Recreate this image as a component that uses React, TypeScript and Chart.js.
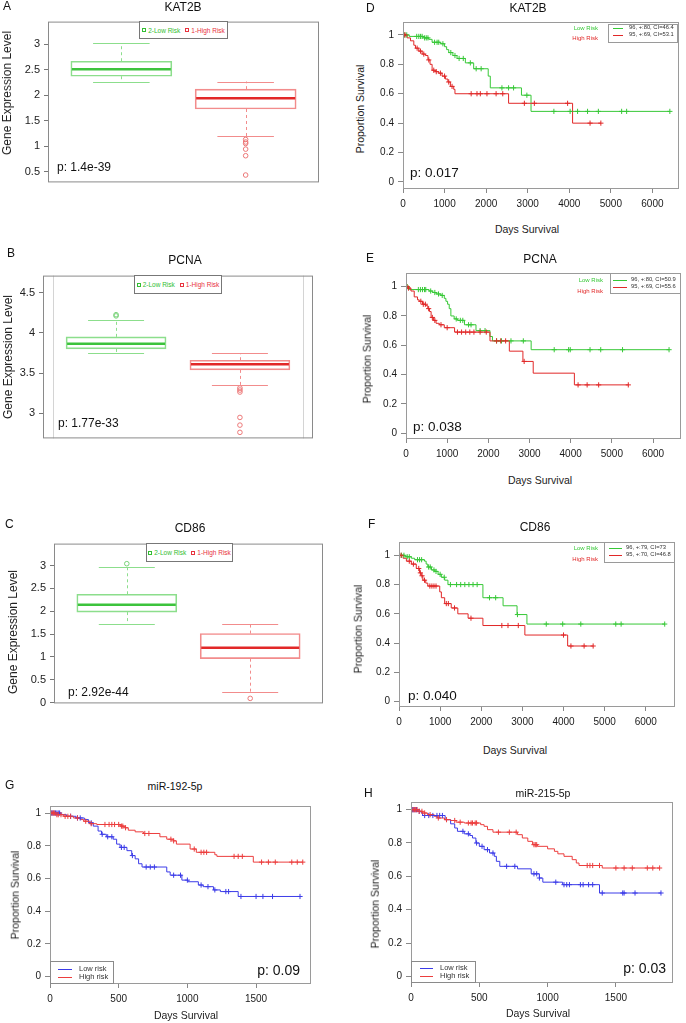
import React, { useEffect, useRef } from 'react';
import { Chart, registerables } from 'chart.js';

Chart.register(...registerables);

const FONT = '"Liberation Sans", Arial, Helvetica, sans-serif';
Chart.defaults.font.family = FONT;

// ---------------- Box plot data: [whisker low, Q1, median, Q3, whisker high] ----------------
const BOX_GROUPS = ['2-Low Risk', '1-High Risk'];
const GROUP_POS = [1, 2];

const KAT2B_LOW = [2.27, 2.375, 2.51, 2.67, 3.03];
const KAT2B_HIGH = [1.19, 1.73, 1.94, 2.12, 2.27];
const KAT2B_LOW_OUT: number[] = [];
const KAT2B_HIGH_OUT = [1.13, 1.08, 1.05, 0.94, 0.81, 0.43];
const KAT2B_TICKS = [0.5, 1, 1.5, 2, 2.5, 3];
const KAT2B_TICK_LABELS = ['0.5', '1', '1.5', '2', '2.5', '3'];

const PCNA_LOW = [3.755, 3.8, 3.865, 3.95, 4.165];
const PCNA_HIGH = [3.35, 3.54, 3.61, 3.66, 3.745];
const PCNA_LOW_OUT = [4.21, 4.225];
const PCNA_HIGH_OUT = [3.315, 3.29, 3.265, 2.95, 2.855, 2.765];
const PCNA_TICKS = [3, 3.5, 4, 4.5];
const PCNA_TICK_LABELS = ['3', '3.5', '4', '4.5'];

const CD86_LOW = [1.72, 1.98, 2.14, 2.37, 2.96];
const CD86_HIGH = [0.23, 0.96, 1.2, 1.51, 1.72];
const CD86_LOW_OUT = [3.04];
const CD86_HIGH_OUT = [0.09];
const CD86_TICKS = [0, 0.5, 1, 1.5, 2, 2.5, 3];
const CD86_TICK_LABELS = ['0', '0.5', '1', '1.5', '2', '2.5', '3'];

// ---------------- Survival data: [day, survival] steps and censor days ----------------
const SURV_TICKS = [0, 0.2, 0.4, 0.6, 0.8, 1];
const SURV_TICK_LABELS = ['0', '0.2', '0.4', '0.6', '0.8', '1'];
const DAYS_LONG = [0, 1000, 2000, 3000, 4000, 5000, 6000];
const DAYS_LONG_LABELS = ['0', '1000', '2000', '3000', '4000', '5000', '6000'];
const DAYS_SHORT = [0, 500, 1000, 1500];
const DAYS_SHORT_LABELS = ['0', '500', '1000', '1500'];

const RISK_LABELS = ['Low Risk', 'High Risk'];
const MIR_LABELS = ['Low risk', 'High risk'];

const D_LOW_STEPS = [[0, 1], [150, 0.99], [500, 0.98], [620, 0.97], [700, 0.95], [900, 0.94], [1000, 0.92], [1050, 0.9], [1100, 0.88], [1200, 0.86], [1300, 0.84], [1500, 0.81], [1700, 0.77], [2050, 0.72], [2100, 0.64], [2850, 0.59], [3080, 0.48]];
const D_LOW_CENSOR = [40, 90, 330, 380, 420, 460, 520, 560, 600, 760, 820, 860, 960, 1150, 1250, 1350, 1450, 1620, 1760, 1880, 2380, 2540, 2660, 2980, 3630, 4020, 4200, 4440, 4700, 5260, 5380, 6420];
const D_HIGH_STEPS = [[0, 1], [100, 0.98], [180, 0.96], [260, 0.93], [300, 0.91], [380, 0.89], [460, 0.87], [540, 0.86], [600, 0.83], [650, 0.8], [700, 0.76], [780, 0.75], [860, 0.74], [940, 0.72], [1020, 0.7], [1080, 0.68], [1140, 0.65], [1220, 0.63], [1250, 0.6], [2540, 0.535], [4080, 0.4]];
const D_HIGH_CENSOR = [20, 50, 340, 420, 500, 620, 740, 800, 900, 1000, 1100, 1180, 1640, 1780, 1860, 2020, 2240, 2400, 2920, 3160, 3960, 4500, 4760];
const D_LEGEND = ['96, +:80, CI=46.4', '95, +:69, CI=53.1'];

const E_LOW_STEPS = [[0, 1], [80, 0.98], [560, 0.97], [650, 0.96], [730, 0.95], [850, 0.94], [930, 0.92], [970, 0.9], [1010, 0.88], [1050, 0.85], [1090, 0.8], [1170, 0.78], [1250, 0.77], [1420, 0.74], [1700, 0.7], [2040, 0.66], [2100, 0.63], [3040, 0.57]];
const E_LOW_CENSOR = [30, 300, 350, 400, 450, 480, 600, 700, 790, 880, 1220, 1320, 1380, 1520, 1580, 1800, 1920, 2200, 2320, 2550, 2850, 3600, 3950, 3990, 4470, 4730, 5260, 6390];
const E_HIGH_STEPS = [[0, 1], [40, 0.99], [120, 0.97], [200, 0.93], [280, 0.91], [320, 0.9], [400, 0.88], [480, 0.87], [530, 0.85], [570, 0.83], [610, 0.79], [670, 0.77], [730, 0.75], [810, 0.74], [930, 0.72], [1180, 0.69], [2040, 0.63], [2510, 0.56], [2840, 0.49], [3090, 0.41], [4090, 0.33]];
const E_HIGH_CENSOR = [20, 60, 360, 420, 470, 550, 640, 700, 850, 1000, 1250, 1350, 1450, 1550, 1650, 1800, 1950, 2200, 2300, 2420, 2870, 4180, 4400, 4680, 5400];
const E_LEGEND = ['96, +:80, CI=50.9', '95, +:69, CI=55.6'];

const F_LOW_STEPS = [[0, 1], [150, 0.99], [300, 0.98], [380, 0.97], [620, 0.96], [660, 0.94], [700, 0.92], [790, 0.9], [870, 0.89], [950, 0.87], [1030, 0.85], [1110, 0.83], [1190, 0.8], [2040, 0.71], [2530, 0.655], [2870, 0.595], [3110, 0.53]];
const F_LOW_CENSOR = [60, 120, 200, 250, 450, 500, 550, 720, 760, 850, 900, 1000, 1100, 1250, 1400, 1500, 1600, 1700, 1800, 1900, 2200, 2350, 2880, 3580, 3980, 4420, 5270, 5400, 6460];
const F_HIGH_STEPS = [[0, 1], [100, 0.98], [180, 0.96], [300, 0.94], [420, 0.91], [500, 0.88], [540, 0.86], [580, 0.83], [650, 0.81], [700, 0.79], [990, 0.75], [1030, 0.71], [1110, 0.67], [1270, 0.64], [1430, 0.6], [1680, 0.57], [2040, 0.52], [3060, 0.455], [4100, 0.38]];
const F_HIGH_CENSOR = [50, 250, 350, 480, 520, 560, 620, 750, 800, 850, 900, 1150, 1200, 1350, 1750, 2500, 2650, 2900, 4000, 4180, 4500, 4720];
const F_LEGEND = ['96, +:79, CI=73', '95, +:70, CI=46.8'];

const G_LOW_STEPS = [[0, 1], [80, 0.99], [120, 0.98], [190, 0.97], [250, 0.96], [280, 0.94], [315, 0.92], [350, 0.89], [375, 0.87], [410, 0.855], [460, 0.84], [485, 0.81], [510, 0.79], [560, 0.77], [595, 0.74], [620, 0.72], [645, 0.69], [670, 0.67], [850, 0.64], [875, 0.62], [960, 0.59], [1005, 0.58], [1080, 0.56], [1115, 0.55], [1190, 0.53], [1240, 0.52], [1370, 0.49]];
const G_LOW_CENSOR = [10, 20, 30, 40, 50, 60, 70, 150, 200, 220, 300, 380, 420, 450, 520, 540, 600, 700, 730, 760, 900, 950, 1000, 1100, 1150, 1200, 1280, 1300, 1390, 1500, 1550, 1620, 1820];
const G_HIGH_STEPS = [[0, 1], [40, 0.99], [100, 0.98], [170, 0.97], [220, 0.96], [245, 0.95], [290, 0.935], [340, 0.93], [510, 0.92], [545, 0.91], [570, 0.895], [620, 0.885], [680, 0.875], [800, 0.855], [850, 0.84], [900, 0.83], [920, 0.81], [1020, 0.78], [1065, 0.76], [1200, 0.745], [1215, 0.735], [1480, 0.7]];
const G_HIGH_CENSOR = [5, 15, 25, 35, 50, 60, 80, 110, 130, 150, 200, 260, 300, 400, 430, 450, 470, 500, 520, 530, 550, 690, 720, 880, 900, 1050, 1100, 1120, 1140, 1340, 1370, 1400, 1540, 1590, 1640, 1760, 1800, 1840];

const H_LOW_STEPS = [[0, 1], [50, 0.99], [75, 0.98], [85, 0.965], [250, 0.94], [290, 0.915], [320, 0.89], [340, 0.87], [390, 0.855], [430, 0.845], [450, 0.83], [475, 0.8], [500, 0.78], [535, 0.76], [575, 0.74], [610, 0.72], [625, 0.69], [650, 0.66], [780, 0.645], [880, 0.615], [940, 0.59], [965, 0.565], [1110, 0.55], [1380, 0.5]];
const H_LOW_CENSOR = [10, 20, 30, 40, 60, 100, 130, 160, 190, 210, 230, 380, 420, 480, 520, 560, 600, 700, 760, 900, 920, 940, 1060, 1120, 1140, 1160, 1240, 1260, 1300, 1330, 1400, 1550, 1560, 1640, 1830];
const H_HIGH_STEPS = [[0, 1], [50, 0.99], [85, 0.98], [120, 0.97], [170, 0.96], [195, 0.95], [245, 0.94], [290, 0.935], [330, 0.925], [390, 0.92], [510, 0.91], [535, 0.9], [560, 0.88], [600, 0.865], [780, 0.85], [815, 0.83], [855, 0.81], [890, 0.79], [925, 0.78], [1000, 0.765], [1050, 0.75], [1075, 0.735], [1120, 0.72], [1180, 0.7], [1210, 0.68], [1230, 0.665], [1400, 0.65]];
const H_HIGH_CENSOR = [5, 15, 25, 35, 45, 60, 80, 100, 140, 200, 260, 320, 360, 420, 440, 450, 470, 480, 640, 720, 770, 900, 910, 920, 1290, 1310, 1330, 1380, 1500, 1560, 1620, 1730, 1770, 1820];

// ---------------- Colours ----------------
const GREEN = 'rgb(55,200,55)';
const RED = 'rgb(225,40,40)';
const BLUE = 'rgb(60,60,232)';
const RED2 = 'rgb(236,62,62)';
const LOW_BOX = 'rgb(140,222,140)';
const LOW_MED = 'rgb(60,195,60)';
const HIGH_BOX = 'rgb(242,140,140)';
const HIGH_MED = 'rgb(226,40,40)';
const LOW_OUT_C = 'rgb(120,210,120)';
const HIGH_OUT_C = 'rgb(236,120,120)';
const LEGEND_COLORS = ['rgb(50,190,50)', 'rgb(232,50,62)'];

// ---------------- helpers ----------------
function stepValue(steps: number[][], t: number) {
  let v = steps[0][1];
  for (const [x, y] of steps) {
    if (x <= t) v = y;
    else break;
  }
  return v;
}

function lineData(steps: number[][], censor: number[]) {
  const pts = steps.map(([x, y]) => ({ x, y }));
  const last = Math.max(...censor);
  const lastStep = steps[steps.length - 1];
  if (last > lastStep[0]) pts.push({ x: last, y: lastStep[1] });
  return pts;
}

function framePlugin(color: string, width: number, vlines?: number[]) {
  return {
    id: 'frame',
    afterDatasetsDraw(chart: any) {
      const { ctx, chartArea: a } = chart;
      ctx.save();
      if (vlines) {
        ctx.strokeStyle = '#d4d4d4';
        ctx.lineWidth = 1;
        for (const v of vlines) {
          const px = Math.round(chart.scales.x.getPixelForValue(v)) + 0.5;
          ctx.beginPath();
          ctx.moveTo(px, a.top);
          ctx.lineTo(px, a.bottom);
          ctx.stroke();
        }
      }
      ctx.strokeStyle = color;
      ctx.lineWidth = width;
      ctx.strokeRect(a.left + 0.5, a.top + 0.5, a.right - a.left - 1, a.bottom - a.top - 1);
      ctx.restore();
    },
  };
}

function boxPlugin(stats: number[][], datasetIndex: number) {
  const lineC = [LOW_BOX, HIGH_BOX];
  const medC = [LOW_MED, HIGH_MED];
  return {
    id: 'boxExtras',
    afterDatasetsDraw(chart: any) {
      const ctx = chart.ctx;
      const ys = chart.scales.y;
      const meta = chart.getDatasetMeta(datasetIndex);
      meta.data.forEach((bar: any, i: number) => {
        const [lo, q1, med, q3, hi] = stats[i];
        const { x, width } = bar.getProps(['x', 'width'], true);
        const line = (x1: number, y1: number, x2: number, y2: number) => {
          ctx.beginPath();
          ctx.moveTo(x1, y1);
          ctx.lineTo(x2, y2);
          ctx.stroke();
        };
        ctx.save();
        const cx = Math.round(x) + 0.5;
        ctx.strokeStyle = lineC[i];
        ctx.lineWidth = 1;
        ctx.setLineDash([3, 3]);
        line(cx, ys.getPixelForValue(q3), cx, ys.getPixelForValue(hi));
        line(cx, ys.getPixelForValue(q1), cx, ys.getPixelForValue(lo));
        ctx.setLineDash([]);
        const cw = width * 0.28;
        const yhi = Math.round(ys.getPixelForValue(hi)) + 0.5;
        const ylo = Math.round(ys.getPixelForValue(lo)) + 0.5;
        line(x - cw, yhi, x + cw, yhi);
        line(x - cw, ylo, x + cw, ylo);
        ctx.strokeStyle = medC[i];
        ctx.lineWidth = 2.5;
        const ym = ys.getPixelForValue(med);
        line(x - width / 2 + 1, ym, x + width / 2 - 1, ym);
        ctx.restore();
      });
    },
  };
}

function Txt({ x, y, text, size = 12, color = '#111', anchor = 'middle', rotate = false }: any) {
  const tx = anchor === 'start' ? '0' : anchor === 'end' ? '-100%' : '-50%';
  return (
    <div
      style={{
        position: 'absolute',
        left: x,
        top: y,
        transform: `translate(${tx}, -50%)${rotate ? ' rotate(-90deg)' : ''}`,
        fontFamily: FONT,
        fontSize: size,
        color,
        whiteSpace: 'nowrap',
        lineHeight: 1,
      }}
    >
      {text}
    </div>
  );
}

// ---------------- Box plot panels ----------------
const BOX_PANELS = [
  {
    key: 'A', box: { x: 48, y: 21, w: 271, h: 162 }, yMin: 0.285, yMax: 3.45, ticks: KAT2B_TICKS, labels: KAT2B_TICK_LABELS,
    low: KAT2B_LOW, high: KAT2B_HIGH, lowOut: KAT2B_LOW_OUT, highOut: KAT2B_HIGH_OUT, xMin: 0.41, xMax: 2.59, boxW: 101,
    letter: { t: 'A', x: 3, y: 6 }, title: { t: 'KAT2B', x: 183, y: 7 }, yTitle: { x: 7, y: 93 },
    legend: { x: 139, y: 21, w: 89, h: 18 }, p: { t: 'p: 1.4e-39', x: 57, y: 167 },
  },
  {
    key: 'B', box: { x: 43, y: 275, w: 270, h: 164 }, yMin: 2.69, yMax: 4.71, ticks: PCNA_TICKS, labels: PCNA_TICK_LABELS,
    low: PCNA_LOW, high: PCNA_HIGH, lowOut: PCNA_LOW_OUT, highOut: PCNA_HIGH_OUT, xMin: 0.41, xMax: 2.59, boxW: 100,
    vlines: [0.49, 2.51],
    letter: { t: 'B', x: 7, y: 253 }, title: { t: 'PCNA', x: 185, y: 260 }, yTitle: { x: 8, y: 357 },
    legend: { x: 134, y: 275, w: 88, h: 19 }, p: { t: 'p: 1.77e-33', x: 58, y: 423 },
  },
  {
    key: 'C', box: { x: 54, y: 543, w: 269, h: 161 }, yMin: -0.02, yMax: 3.48, ticks: CD86_TICKS, labels: CD86_TICK_LABELS,
    low: CD86_LOW, high: CD86_HIGH, lowOut: CD86_LOW_OUT, highOut: CD86_HIGH_OUT, xMin: 0.41, xMax: 2.59, boxW: 100,
    letter: { t: 'C', x: 5, y: 524 }, title: { t: 'CD86', x: 190, y: 528 }, yTitle: { x: 13, y: 632 },
    legend: { x: 146, y: 543, w: 87, h: 19 }, p: { t: 'p: 2.92e-44', x: 68, y: 692 },
  },
];

function BoxPanel({ d }: any) {
  const ref = useRef<HTMLCanvasElement>(null);
  const yW = 40;
  const padT = 10;
  const padB = 10;
  const padR = 6;
  const left = d.box.x - yW;
  const top = d.box.y - padT;
  const width = yW + d.box.w + padR;
  const height = padT + d.box.h + padB;

  useEffect(() => {
    const chart = new Chart(ref.current as HTMLCanvasElement, {
      type: 'bar',
      data: {
        datasets: [
          {
            type: 'line',
            data: d.highOut.map((v: number) => ({ x: GROUP_POS[1], y: v })),
            showLine: false,
            pointStyle: 'circle',
            pointRadius: 2.3,
            pointBorderWidth: 1,
            pointBorderColor: HIGH_OUT_C,
            pointBackgroundColor: 'rgba(0,0,0,0)',
          },
          {
            type: 'line',
            data: d.lowOut.map((v: number) => ({ x: GROUP_POS[0], y: v })),
            showLine: false,
            pointStyle: 'circle',
            pointRadius: 2.3,
            pointBorderWidth: 1,
            pointBorderColor: LOW_OUT_C,
            pointBackgroundColor: 'rgba(0,0,0,0)',
          },
          {
            type: 'bar',
            data: [
              { x: GROUP_POS[0], y: [d.low[1], d.low[3]] },
              { x: GROUP_POS[1], y: [d.high[1], d.high[3]] },
            ],
            backgroundColor: 'rgba(0,0,0,0)',
            borderColor: [LOW_BOX, HIGH_BOX],
            borderWidth: 1,
            borderSkipped: false,
            barThickness: d.boxW,
            grouped: false,
          },
        ],
      } as any,
      options: {
        animation: false,
        responsive: false,
        maintainAspectRatio: false,
        layout: { padding: { top: padT, right: padR, bottom: padB, left: 0 } },
        plugins: { legend: { display: false }, tooltip: { enabled: false } },
        scales: {
          x: {
            type: 'linear',
            min: d.xMin,
            max: d.xMax,
            offset: false,
            afterBuildTicks: (s: any) => { s.ticks = GROUP_POS.map((v) => ({ value: v })); },
            afterFit: (s: any) => { s.height = 0; },
            ticks: { display: false },
            grid: { display: false },
            border: { display: false },
          },
          y: {
            type: 'linear',
            min: d.yMin,
            max: d.yMax,
            beginAtZero: false,
            afterBuildTicks: (s: any) => { s.ticks = d.ticks.map((v: number) => ({ value: v })); },
            afterFit: (s: any) => { s.width = yW; },
            ticks: {
              font: { size: 11, family: FONT },
              color: '#222',
              padding: 4,
              autoSkip: false,
              callback: (_v: any, i: number) => d.labels[i],
            },
            grid: { drawOnChartArea: false, drawTicks: true, tickLength: 4, color: '#777' },
            border: { display: false },
          },
        },
      } as any,
      plugins: [framePlugin('#8a8a8a', 1, d.vlines), boxPlugin([d.low, d.high], 2)],
    });
    return () => chart.destroy();
  }, []);

  return (
    <>
      <canvas ref={ref} width={width} height={height} style={{ position: 'absolute', left, top, width, height }} />
      <Txt x={d.letter.x} y={d.letter.y} text={d.letter.t} anchor="start" size={12} />
      <Txt x={d.title.x} y={d.title.y} text={d.title.t} size={12} />
      <Txt x={d.yTitle.x} y={d.yTitle.y} text="Gene Expression Level" size={12} rotate color="#222" />
      <Txt x={d.p.x} y={d.p.y} text={d.p.t} anchor="start" size={12} color="#111" />
      <div
        style={{
          position: 'absolute', left: d.legend.x, top: d.legend.y, width: d.legend.w, height: d.legend.h,
          boxSizing: 'border-box', border: '1px solid #777', background: '#fff', display: 'flex',
          alignItems: 'center', justifyContent: 'center', gap: 5, fontFamily: FONT, fontSize: 6.5,
          whiteSpace: 'nowrap', overflow: 'visible',
        }}
      >
        {BOX_GROUPS.map((g, i) => (
          <span key={g} style={{ color: LEGEND_COLORS[i], display: 'flex', alignItems: 'center', gap: 2, flexShrink: 0, whiteSpace: 'nowrap' }}>
            <span style={{ display: 'inline-block', width: 2, height: 2, border: `1px solid ${LEGEND_COLORS[i]}` }} />
            {g}
          </span>
        ))}
      </div>
    </>
  );
}

// ---------------- Survival panels ----------------
const SURV_PANELS = [
  {
    key: 'D', box: { x: 403, y: 22, w: 276, h: 167 }, xMax: 6640, yMin: -0.048, yMax: 1.088, xTicks: DAYS_LONG, xLabels: DAYS_LONG_LABELS,
    low: D_LOW_STEPS, lowC: D_LOW_CENSOR, high: D_HIGH_STEPS, highC: D_HIGH_CENSOR, colors: [GREEN, RED],
    letter: { t: 'D', x: 366, y: 8 }, title: { t: 'KAT2B', x: 528, y: 8 }, yTitle: { x: 360, y: 109 }, xTitle: { x: 527, y: 229 },
    p: { t: 'p: 0.017', x: 410, y: 173, size: 13.5, anchor: 'start' },
    top: { labelsRight: 598, labelY: [28, 38], box: { x: 608, y: 24, w: 70, h: 19 }, lineX: [613, 623], lineY: [28, 35], textX: 629, texts: D_LEGEND },
  },
  {
    key: 'E', box: { x: 406, y: 273, w: 275, h: 166 }, xMax: 6680, yMin: -0.039, yMax: 1.093, xTicks: DAYS_LONG, xLabels: DAYS_LONG_LABELS,
    low: E_LOW_STEPS, lowC: E_LOW_CENSOR, high: E_HIGH_STEPS, highC: E_HIGH_CENSOR, colors: [GREEN, RED],
    letter: { t: 'E', x: 366, y: 258 }, title: { t: 'PCNA', x: 540, y: 259 }, yTitle: { x: 367, y: 359 }, xTitle: { x: 540, y: 480 },
    p: { t: 'p: 0.038', x: 413, y: 427, size: 13.5, anchor: 'start' },
    top: { labelsRight: 603, labelY: [280, 291], box: { x: 610, y: 273, w: 71, h: 21 }, lineX: [613, 627], lineY: [280, 287], textX: 631, texts: E_LEGEND },
  },
  {
    key: 'F', box: { x: 399, y: 542, w: 276, h: 165 }, xMax: 6710, yMin: -0.037, yMax: 1.091, xTicks: DAYS_LONG, xLabels: DAYS_LONG_LABELS,
    low: F_LOW_STEPS, lowC: F_LOW_CENSOR, high: F_HIGH_STEPS, highC: F_HIGH_CENSOR, colors: [GREEN, RED],
    letter: { t: 'F', x: 368, y: 524 }, title: { t: 'CD86', x: 535, y: 527 }, yTitle: { x: 358, y: 629 }, xTitle: { x: 515, y: 750 },
    p: { t: 'p: 0.040', x: 408, y: 696, size: 13.5, anchor: 'start' },
    top: { labelsRight: 598, labelY: [548, 559], box: { x: 604, y: 542, w: 71, h: 21 }, lineX: [609, 622], lineY: [548, 555], textX: 626, texts: F_LEGEND },
  },
  {
    key: 'G', box: { x: 50, y: 806, w: 261, h: 178 }, xMax: 1900, yMin: -0.045, yMax: 1.043, xTicks: DAYS_SHORT, xLabels: DAYS_SHORT_LABELS,
    low: G_LOW_STEPS, lowC: G_LOW_CENSOR, high: G_HIGH_STEPS, highC: G_HIGH_CENSOR, colors: [BLUE, RED2],
    letter: { t: 'G', x: 5, y: 785 }, title: { t: 'miR-192-5p', x: 175, y: 786 }, yTitle: { x: 15, y: 895 }, xTitle: { x: 186, y: 1015 },
    p: { t: 'p: 0.09', x: 300, y: 970, size: 14, anchor: 'end' },
    bottom: { box: { x: 50, y: 961, w: 64, h: 23 }, lineX: [58, 72], lineY: [969, 977], textX: 79 },
  },
  {
    key: 'H', box: { x: 411, y: 802, w: 262, h: 181 }, xMax: 1918, yMin: -0.04, yMax: 1.046, xTicks: DAYS_SHORT, xLabels: DAYS_SHORT_LABELS,
    low: H_LOW_STEPS, lowC: H_LOW_CENSOR, high: H_HIGH_STEPS, highC: H_HIGH_CENSOR, colors: [BLUE, RED2],
    letter: { t: 'H', x: 364, y: 793 }, title: { t: 'miR-215-5p', x: 543, y: 793 }, yTitle: { x: 375, y: 904 }, xTitle: { x: 538, y: 1013 },
    p: { t: 'p: 0.03', x: 666, y: 968, size: 14, anchor: 'end' },
    bottom: { box: { x: 411, y: 961, w: 65, h: 22 }, lineX: [420, 433], lineY: [968, 976], textX: 440 },
  },
];

function SurvPanel({ d }: any) {
  const ref = useRef<HTMLCanvasElement>(null);
  const yW = 36;
  const padT = 10;
  const xH = 26;
  const padR = 5;
  const left = d.box.x - yW;
  const top = d.box.y - padT;
  const width = yW + d.box.w + padR;
  const height = padT + d.box.h + xH;

  useEffect(() => {
    const [lowColor, highColor] = d.colors;
    const censorSet = (steps: number[][], cens: number[], color: string) => ({
      type: 'line',
      data: cens.map((t) => ({ x: t, y: stepValue(steps, t) })),
      showLine: false,
      pointStyle: 'cross',
      pointRadius: 2.6,
      pointBorderWidth: 1,
      pointBorderColor: color,
      pointBackgroundColor: color,
    });
    const curve = (steps: number[][], cens: number[], color: string) => ({
      type: 'line',
      data: lineData(steps, cens),
      stepped: 'before',
      borderColor: color,
      borderWidth: 1,
      pointRadius: 0,
      fill: false,
    });
    const chart = new Chart(ref.current as HTMLCanvasElement, {
      type: 'line',
      data: {
        datasets: [
          censorSet(d.high, d.highC, highColor),
          censorSet(d.low, d.lowC, lowColor),
          curve(d.high, d.highC, highColor),
          curve(d.low, d.lowC, lowColor),
        ],
      } as any,
      options: {
        animation: false,
        responsive: false,
        maintainAspectRatio: false,
        layout: { padding: { top: padT, right: padR, bottom: 0, left: 0 } },
        plugins: { legend: { display: false }, tooltip: { enabled: false } },
        scales: {
          x: {
            type: 'linear',
            min: 0,
            max: d.xMax,
            afterBuildTicks: (s: any) => { s.ticks = d.xTicks.map((v: number) => ({ value: v })); },
            afterFit: (s: any) => { s.height = xH; },
            ticks: {
              font: { size: 10, family: FONT },
              color: '#1a1a1a',
              padding: 5,
              maxRotation: 0,
              autoSkip: false,
              callback: (_v: any, i: number) => d.xLabels[i],
            },
            grid: { drawOnChartArea: false, drawTicks: true, tickLength: 4, color: '#888' },
            border: { display: false },
          },
          y: {
            type: 'linear',
            min: d.yMin,
            max: d.yMax,
            afterBuildTicks: (s: any) => { s.ticks = SURV_TICKS.map((v) => ({ value: v })); },
            afterFit: (s: any) => { s.width = yW; },
            ticks: {
              font: { size: 10, family: FONT },
              color: '#1a1a1a',
              padding: 4,
              autoSkip: false,
              callback: (_v: any, i: number) => SURV_TICK_LABELS[i],
            },
            grid: { drawOnChartArea: false, drawTicks: true, tickLength: 5, color: '#888' },
            border: { display: false },
          },
        },
      } as any,
      plugins: [framePlugin('#9a9a9a', 1)],
    });
    return () => chart.destroy();
  }, []);

  const t = d.top;
  const b = d.bottom;
  return (
    <>
      <canvas ref={ref} width={width} height={height} style={{ position: 'absolute', left, top, width, height }} />
      <Txt x={d.letter.x} y={d.letter.y} text={d.letter.t} anchor="start" size={12} />
      <Txt x={d.title.x} y={d.title.y} text={d.title.t} size={d.bottom ? 10.5 : 12} />
      <Txt x={d.yTitle.x} y={d.yTitle.y} text="Proportion Survival" size={10.5} rotate color="#222" />
      <Txt x={d.xTitle.x} y={d.xTitle.y} text="Days Survival" size={10.5} color="#222" />
      <Txt x={d.p.x} y={d.p.y} text={d.p.t} anchor={d.p.anchor} size={d.p.size} color="#111" />
      {t && (
        <>
          {RISK_LABELS.map((lab, i) => (
            <Txt key={lab} x={t.labelsRight} y={t.labelY[i]} text={lab} anchor="end" size={6} color={d.colors[i]} />
          ))}
          <div style={{ position: 'absolute', left: t.box.x, top: t.box.y, width: t.box.w, height: t.box.h, boxSizing: 'border-box', border: '1px solid #9a9a9a', background: '#fff' }} />
          {t.texts.map((s: string, i: number) => (
            <React.Fragment key={s}>
              <div style={{ position: 'absolute', left: t.lineX[0], top: t.lineY[i], width: t.lineX[1] - t.lineX[0], height: 1, background: d.colors[i] }} />
              <Txt x={t.textX} y={t.lineY[i]} text={s} anchor="start" size={5.8} color="#333" />
            </React.Fragment>
          ))}
        </>
      )}
      {b && (
        <>
          <div style={{ position: 'absolute', left: b.box.x, top: b.box.y, width: b.box.w, height: b.box.h, boxSizing: 'border-box', border: '1px solid #8a8a8a', background: '#fff' }} />
          {MIR_LABELS.map((lab, i) => (
            <React.Fragment key={lab}>
              <div style={{ position: 'absolute', left: b.lineX[0], top: b.lineY[i], width: b.lineX[1] - b.lineX[0], height: 1, background: d.colors[i] }} />
              <Txt x={b.textX} y={b.lineY[i]} text={lab} anchor="start" size={7.5} color="#333" />
            </React.Fragment>
          ))}
        </>
      )}
    </>
  );
}

export default function App() {
  return (
    <div style={{ position: 'absolute', left: 0, top: 0, width: 686, height: 1023, background: '#fff', overflow: 'hidden' }}>
      {BOX_PANELS.map((d) => (
        <BoxPanel key={d.key} d={d} />
      ))}
      {SURV_PANELS.map((d) => (
        <SurvPanel key={d.key} d={d} />
      ))}
    </div>
  );
}
